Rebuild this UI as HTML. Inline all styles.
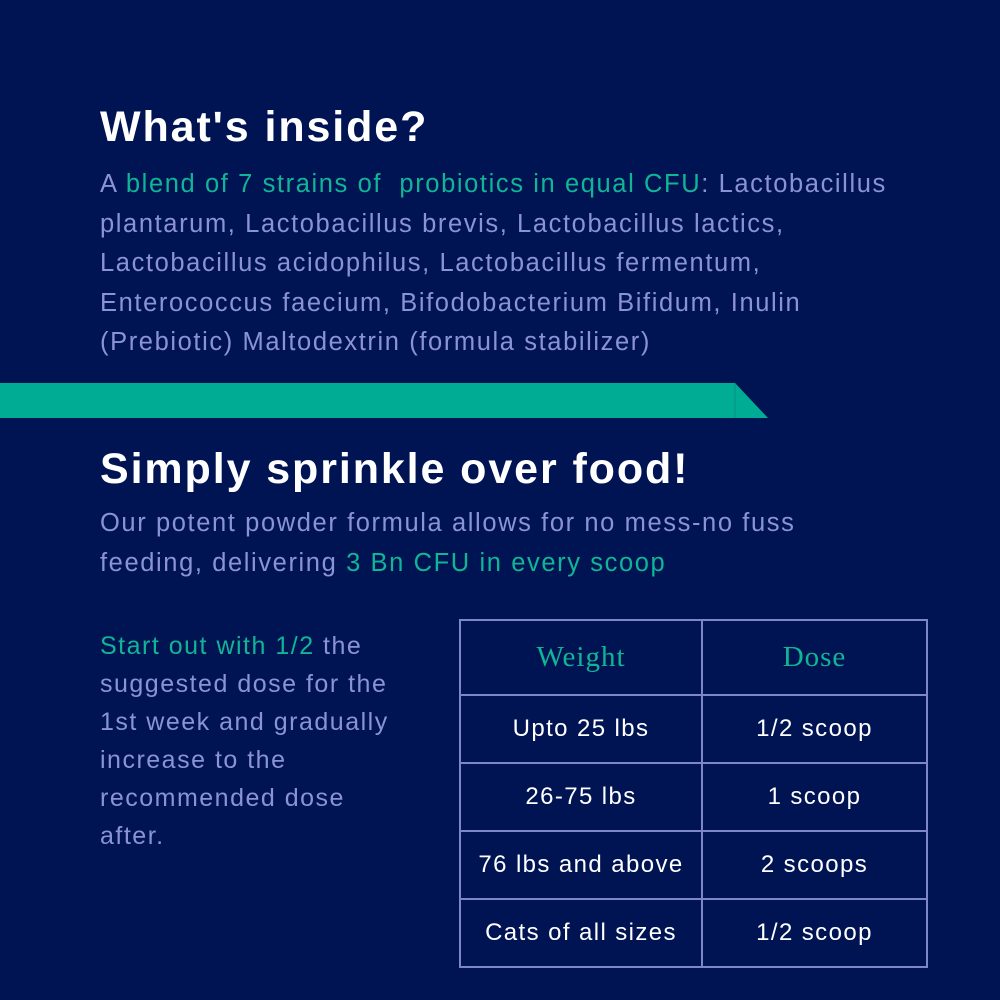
<!DOCTYPE html>
<html><head><style>
body{margin:0;width:1000px;height:1000px;background:#001453;position:relative;overflow:hidden;font-family:"Liberation Sans",sans-serif}
.a{position:absolute;left:100px;margin:0;white-space:nowrap}
h1{color:#fff;font-weight:bold;font-size:43px;letter-spacing:1.9px}
p{color:#8b93d6;font-size:25.5px;line-height:39.5px;letter-spacing:1.6px}
.t{color:#10b596}
.c{position:absolute;border:2px solid #7d85cb;box-sizing:border-box;color:#fff;font-size:24px;letter-spacing:1.4px;display:flex;align-items:center;justify-content:center}
.h{color:#10b596;font-family:"Liberation Serif",serif;font-size:29px;letter-spacing:1px}
</style></head><body>
<h1 class="a" style="top:103px">What's inside?</h1>
<p class="a" style="top:165px">A <span class="t">blend of 7 strains of &nbsp;probiotics in equal CFU</span>: Lactobacillus<br>plantarum, Lactobacillus brevis, Lactobacillus lactics,<br>Lactobacillus acidophilus, Lactobacillus fermentum,<br>Enterococcus faecium, Bifodobacterium Bifidum, Inulin<br>(Prebiotic) Maltodextrin (formula stabilizer)</p>
<svg style="position:absolute;left:0;top:383px" width="770" height="36"><polygon points="0,0 735,0 768,35 0,35" fill="#00ad94"/><line x1="735" y1="0" x2="735" y2="35" stroke="#0a8f80" stroke-width="1"/></svg>
<h1 class="a" style="top:445px">Simply sprinkle over food!</h1>
<p class="a" style="top:504px">Our potent powder formula allows for no mess-no fuss<br>feeding, delivering <span class="t">3 Bn CFU in every scoop</span></p>
<p class="a" style="top:627px;font-size:25px;line-height:38px;letter-spacing:1.5px"><span class="t">Start out with 1/2</span> the<br>suggested dose for the<br>1st week and gradually<br>increase to the<br>recommended dose<br>after.</p>
<div class="c h" style="left:459px;top:619px;width:244px;height:77px">Weight</div>
<div class="c h" style="left:701px;top:619px;width:227px;height:77px">Dose</div>
<div class="c" style="left:459px;top:694px;width:244px;height:70px">Upto 25 lbs</div>
<div class="c" style="left:701px;top:694px;width:227px;height:70px">1/2 scoop</div>
<div class="c" style="left:459px;top:762px;width:244px;height:70px">26-75 lbs</div>
<div class="c" style="left:701px;top:762px;width:227px;height:70px">1 scoop</div>
<div class="c" style="left:459px;top:830px;width:244px;height:70px">76 lbs and above</div>
<div class="c" style="left:701px;top:830px;width:227px;height:70px">2 scoops</div>
<div class="c" style="left:459px;top:898px;width:244px;height:70px">Cats of all sizes</div>
<div class="c" style="left:701px;top:898px;width:227px;height:70px">1/2 scoop</div>
</body></html>
